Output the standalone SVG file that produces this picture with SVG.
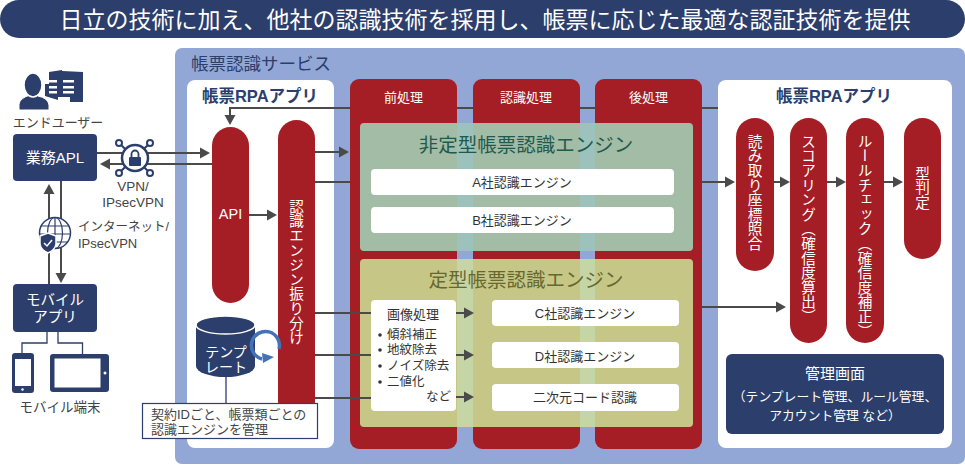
<svg xmlns="http://www.w3.org/2000/svg" width="965" height="466" viewBox="0 0 965 466">
<style>
text{font-family:"Liberation Sans","Noto Sans CJK JP",sans-serif;dominant-baseline:central;fill:#444}
.c{text-anchor:middle}
.w{fill:#fff}
.v{font-family:"Noto Sans CJK JP",sans-serif;writing-mode:vertical-rl;fill:#fff;font-size:14.6px;text-anchor:start}
.red{fill:#a61e25}
.navy{fill:#2c3e6b}
.wb{fill:#fff}
.ptitle{font-size:16.500px;font-weight:700;fill:#2c3e6b;text-anchor:middle}
.eng{font-size:13px;text-anchor:middle;fill:#333}
.lst{font-size:12.5px;fill:#333}
.ln{fill:none;stroke:#4a4a4a;stroke-width:2}
.th{fill:none;stroke:#2c3e6b;stroke-width:1.3}
</style>
<defs>
<marker id="ah" markerUnits="userSpaceOnUse" markerWidth="11" markerHeight="12" refX="8" refY="6" orient="auto"><path d="M0 0.5L10 6L0 11.5z" fill="#4a4a4a"/></marker>
</defs>

<g id="title-bar"><rect x="0" y="0" width="965" height="38" rx="19" class="navy"/><text x="485" y="19.500" class="c w" font-size="23">日立の技術に加え、他社の認識技術を採用し、帳票に応じた最適な認証技術を提供</text></g>

<g id="service"><rect x="175" y="48" width="790" height="416" rx="7" fill="#92a7d5"/><text x="191" y="64" font-size="17.500" style="fill:#2c3e6b">帳票認識サービス</text></g>

<g id="panel-left"><rect x="187" y="80" width="147" height="368" rx="8" class="wb"/><text x="260" y="96" class="ptitle">帳票RPAアプリ</text></g>
<g id="panel-right"><rect x="718" y="80" width="234" height="368" rx="8" class="wb"/><text x="834" y="96" class="ptitle">帳票RPAアプリ</text></g>

<g id="col-pre"><rect x="350" y="79" width="107" height="370" rx="9" class="red"/><text x="403.500" y="97" class="c w" font-size="13">前処理</text></g>
<g id="col-rec"><rect x="473" y="79" width="107" height="370" rx="9" class="red"/><text x="526" y="97" class="c w" font-size="13">認識処理</text></g>
<g id="col-post"><rect x="595" y="79" width="107" height="370" rx="9" class="red"/><text x="648.500" y="97" class="c w" font-size="13">後処理</text></g>

<g id="engine-unstructured">
<rect x="360" y="123" width="333" height="128" rx="4" fill="#a3bca5"/>
<rect x="457" y="123" width="16" height="128" fill="#9cc2bb"/><rect x="580" y="123" width="15" height="128" fill="#9cc2bb"/>
<text x="526" y="145" class="c" font-size="19.500" style="fill:#1f5a4c">非定型帳票認識エンジン</text>
</g>
<g id="engine-a"><rect x="371" y="169" width="303" height="26" rx="4" class="wb"/><text x="522" y="182" class="eng">A社認識エンジン</text></g>
<g id="engine-b"><rect x="371" y="207" width="303" height="26" rx="4" class="wb"/><text x="522" y="220" class="eng">B社認識エンジン</text></g>

<g id="engine-structured">
<rect x="360" y="259" width="333" height="168" rx="4" fill="#c6c786"/>
<rect x="457" y="259" width="16" height="168" fill="#c6d5a6"/><rect x="580" y="259" width="15" height="168" fill="#c6d5a6"/>
<text x="526" y="280" class="c" font-size="19.500" style="fill:#66682f">定型帳票認識エンジン</text>
</g>
<g id="engine-c"><rect x="492" y="300" width="187" height="26" rx="4" class="wb"/><text x="585" y="313" class="eng">C社認識エンジン</text></g>
<g id="engine-d"><rect x="492" y="342" width="187" height="26" rx="4" class="wb"/><text x="585" y="356" class="eng">D社認識エンジン</text></g>
<g id="engine-qr"><rect x="492" y="384" width="187" height="27" rx="4" class="wb"/><text x="585" y="397" class="eng">二次元コード認識</text></g>

<g id="connectors">
<path class="ln" d="M350 108H230V123" marker-end="url(#ah)"/>
<path class="ln" d="M457 108H473M580 108H595M702 108H718"/>
<path class="ln" d="M97 153H208" marker-end="url(#ah)"/>
<path class="ln" d="M212 164H102" marker-end="url(#ah)"/>
<path class="ln" d="M49 284V186" marker-end="url(#ah)"/>
<path class="ln" d="M61 181V281" marker-end="url(#ah)"/>
<path class="ln" d="M249 215H275" marker-end="url(#ah)"/>
<path class="ln" d="M315 152H347" marker-end="url(#ah)"/>
<path class="ln" d="M315 182H350"/>
<path class="ln" d="M702 182H733" marker-end="url(#ah)"/>
<path class="ln" d="M774 182H788" marker-end="url(#ah)"/>
<path class="ln" d="M827 182H844" marker-end="url(#ah)"/>
<path class="ln" d="M884 182H901" marker-end="url(#ah)"/>
<path class="ln" d="M702 307H784" marker-end="url(#ah)"/>
<path class="ln" d="M315 313H371M315 355H371M315 398H371"/>
<path class="ln" d="M456 313H472" marker-end="url(#ah)"/>
<path class="ln" d="M456 355H472" marker-end="url(#ah)"/>
<path class="ln" d="M456 397H472" marker-end="url(#ah)"/>
<path class="th" d="M47 332V343H22V353M58 332V343H82.500V354M226 377V403"/>
</g>

<g id="api"><rect x="212" y="127" width="37" height="176" rx="18.500" class="red"/><text x="230.500" y="214" class="c w" font-size="14.500">API</text></g>
<g id="router"><rect x="278" y="120" width="37" height="300" rx="18.500" class="red"/><text x="296.500" y="199" class="v">認識エンジン振り分け</text></g>

<g id="image-processing">
<rect x="371" y="300" width="85" height="111" rx="4" class="wb"/>
<text x="413" y="314" class="c" font-size="13" style="fill:#333">画像処理</text>
<g class="lst">
<circle cx="380" cy="335" r="1.800" fill="#333"/><text x="387" y="335" class="lst">傾斜補正</text>
<circle cx="380" cy="350" r="1.800" fill="#333"/><text x="387" y="350" class="lst">地紋除去</text>
<circle cx="380" cy="366" r="1.800" fill="#333"/><text x="387" y="366" class="lst">ノイズ除去</text>
<circle cx="380" cy="382" r="1.800" fill="#333"/><text x="387" y="382" class="lst">二値化</text>
<text x="451" y="397" class="lst" text-anchor="end">など</text>
</g>
</g>

<g id="template">
<path d="M196 326V366A29.500 11 0 0 0 255 366V326z" class="navy"/>
<ellipse cx="225.500" cy="325" rx="29.500" ry="9" class="navy" stroke="#fff" stroke-width="1.500"/>
<text x="226" y="352" class="c w" font-size="14">テンプ</text>
<text x="226" y="367" class="c w" font-size="14">レート</text>
<path d="M279 349A14 14 0 1 0 262 359" fill="none" stroke="#4472b8" stroke-width="3.500"/>
<path d="M262 353L274 357L263 363z" fill="#4472b8"/>
</g>

<g id="note"><rect x="142.500" y="403.500" width="175" height="35" fill="#fff" stroke="#2c3e6b" stroke-width="1.200"/>
<text x="151" y="414" font-size="13">契約IDごと、帳票類ごとの</text><text x="151" y="429" font-size="13">認識エンジンを管理</text></g>

<g id="pill-read"><rect x="736" y="118" width="38" height="153" rx="19" class="red"/><text x="755" y="134" class="v">読み取り座標照合</text></g>
<g id="pill-score"><rect x="790" y="118" width="37" height="225" rx="18.500" class="red"/><text x="808.500" y="134" class="v">スコアリング（確信度算出）</text></g>
<g id="pill-rule"><rect x="846" y="118" width="38" height="225" rx="19" class="red"/><text x="865" y="134" class="v">ルールチェック（確信度補正）</text></g>
<g id="pill-type"><rect x="904" y="118" width="37" height="141" rx="18.500" class="red"/><text x="922.500" y="166" class="v">型判定</text></g>

<g id="admin"><rect x="726" y="354" width="218" height="80" rx="6" class="navy"/>
<text x="835" y="373" class="c w" font-size="15">管理画面</text>
<text x="835" y="396" class="c w" font-size="12.800">（テンプレート管理、ルール管理、</text>
<text x="835" y="415" class="c w" font-size="12.800">アカウント管理 など）</text></g>

<g id="end-user">
<path d="M49 72L62 70V71L83 72V102H70V97H58V100L45 96V84H49z" class="navy"/>
<g fill="#fff"><rect x="49" y="80" width="8" height="2.500"/><rect x="63" y="80" width="11" height="2.500"/><rect x="49" y="86" width="8" height="2.500"/><rect x="63" y="86" width="11" height="2.500"/><rect x="49" y="91" width="8" height="2.500"/><rect x="63" y="91" width="11" height="2.500"/></g>
<path d="M19 110V104Q20 98 30 95V92H38V96Q48 98 49 105V110z" class="navy" stroke="#fff" stroke-width="1"/>
<ellipse cx="33" cy="85" rx="9" ry="12" class="navy" stroke="#fff" stroke-width="1.500"/>
<text x="58" y="122" class="c" font-size="13">エンドユーザー</text>
</g>

<g id="gyomu-apl"><rect x="13" y="134" width="84" height="47" rx="4" class="navy"/><text x="55" y="157" class="c w" font-size="15">業務APL</text></g>

<g id="vpn">
<path d="M119 143L150 173M150 143L119 173" fill="none" stroke="#2c3e6b" stroke-width="2"/>
<circle cx="135" cy="158" r="13" fill="#fff" stroke="#2c3e6b" stroke-width="2.500"/>
<g fill="#fff" stroke="#2c3e6b" stroke-width="2"><circle cx="119" cy="143" r="3"/><circle cx="150" cy="143" r="3"/><circle cx="119" cy="173" r="3"/><circle cx="150" cy="173" r="3"/></g>
<rect x="129" y="157" width="12" height="9" rx="1" class="navy"/><path d="M131.500 157V154A3.500 3.500 0 0 1 138.500 154V157" fill="none" stroke="#2c3e6b" stroke-width="1.800"/>
<text x="133" y="186" class="c" font-size="13.500">VPN/</text><text x="133" y="202" class="c" font-size="13.500">IPsecVPN</text>
</g>

<g id="internet">
<circle cx="55" cy="233" r="15.500" fill="#fff" stroke="#2c3e6b" stroke-width="1.500"/>
<g fill="none" stroke="#2c3e6b" stroke-width="1.200"><ellipse cx="55" cy="233" rx="7.500" ry="15.500"/><path d="M55 217.500V249M40.500 226H69.500M39.500 234H70.500M42 242H68"/></g>
<path d="M40 236L48 233L56 236V244Q55 250 48 253Q41 250 40 244z" fill="#2c3e6b" stroke="#fff" stroke-width="1.500"/>
<path d="M44 243L47 246L52 240" fill="none" stroke="#fff" stroke-width="1.500"/>
<text x="78" y="227" font-size="12.500">インターネット/</text><text x="78" y="243" font-size="13">IPsecVPN</text>
</g>

<g id="mobile-app"><rect x="13" y="284" width="84" height="48" rx="4" class="navy"/><text x="55" y="300" class="c w" font-size="14.500">モバイル</text><text x="55" y="317" class="c w" font-size="14.500">アプリ</text></g>

<g id="mobile-devices">
<rect x="12" y="353" width="22" height="40" rx="3" class="navy"/><rect x="15" y="359" width="16" height="27" fill="#fff"/><circle cx="22.500" cy="389.500" r="1.200" fill="#fff"/>
<rect x="50" y="354" width="59" height="38" rx="3" class="navy"/><rect x="54.500" y="358.500" width="46" height="29" fill="#fff"/><circle cx="105" cy="373" r="1.500" fill="#fff"/>
<text x="60" y="407" class="c" font-size="13.500">モバイル端末</text>
</g>
</svg>
